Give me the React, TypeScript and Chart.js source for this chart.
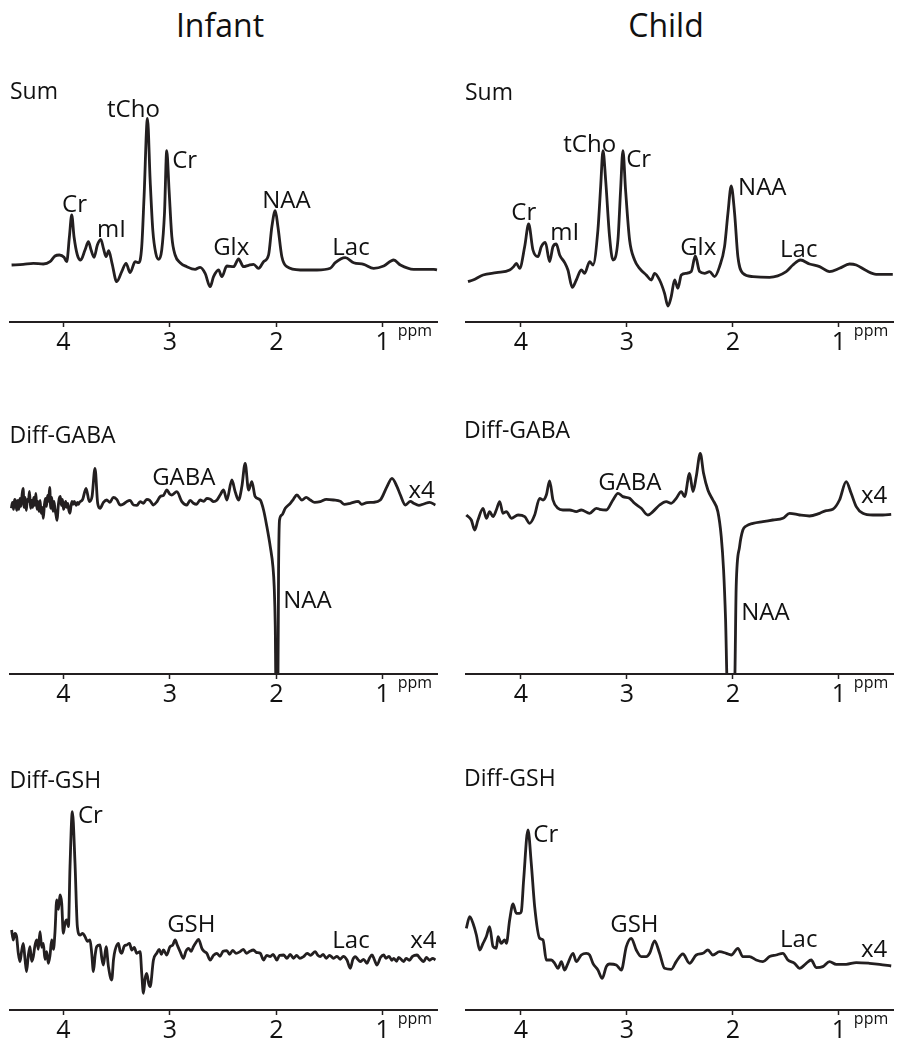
import React, { useEffect, useRef } from "react";
import { Chart, registerables } from "chart.js";

Chart.register(...registerables);

// ---------- tick labels ----------
const TICK_VALUES = [4, 3, 2, 1];

// ---------- Infant / Sum ----------
const infantSumPpm = [4.488, 4.378, 4.284, 4.19, 4.127, 4.08, 4.039, 3.995, 3.97, 3.945, 3.923, 3.901, 3.87, 3.839, 3.798, 3.766, 3.741, 3.713, 3.682, 3.65, 3.625, 3.6, 3.575, 3.544, 3.5, 3.453, 3.412, 3.374, 3.327, 3.293, 3.265, 3.243, 3.211, 3.186, 3.161, 3.133, 3.105, 3.077, 3.051, 3.03, 3.008, 2.982, 2.951, 2.904, 2.841, 2.763, 2.716, 2.669, 2.622, 2.59, 2.543, 2.512, 2.465, 2.402, 2.355, 2.308, 2.261, 2.214, 2.167, 2.12, 2.073, 2.042, 2.01, 1.985, 1.948, 1.901, 1.775, 1.618, 1.493, 1.446, 1.352, 1.273, 1.179, 1.085, 0.991, 0.897, 0.834, 0.709, 0.521, 0.49];
const infantSumVal = [0, 0.7, 1.7, 1, 3.3, 9, 10, 7.7, 3.3, 28, 50, 28, 10, 5, 15, 23.3, 15, 7.7, 20, 25.7, 16.7, 8.3, 14.3, 1.7, -16.7, -6.7, 1.7, -7.7, 3.3, 2.3, 18.3, 68.3, 146.7, 85, 35, 11.7, 5.7, 15, 51.7, 114.3, 75, 28.3, 10, 2.3, -1.7, -4.3, -2.3, -8.3, -21.7, -11.7, -5, -11.7, -1, -1.7, 6, -1.7, -0.3, 0.7, -3.3, 3.3, 10, 38.3, 54.3, 38.3, 8.3, -1.7, -5, -5, -3.3, 2.3, 7.3, 2.3, 0.7, -3.3, -1, 5, 0, -4.3, -4.3, -5];

// ---------- Child / Sum ----------
const childSumPpm = [4.5, 4.453, 4.358, 4.233, 4.107, 4.069, 4.044, 4.013, 3.965, 3.928, 3.887, 3.84, 3.808, 3.77, 3.73, 3.698, 3.667, 3.635, 3.588, 3.557, 3.516, 3.478, 3.431, 3.399, 3.352, 3.321, 3.274, 3.248, 3.226, 3.201, 3.164, 3.132, 3.085, 3.06, 3.038, 3.013, 2.975, 2.928, 2.881, 2.818, 2.77, 2.739, 2.692, 2.645, 2.613, 2.582, 2.55, 2.519, 2.487, 2.44, 2.393, 2.355, 2.314, 2.267, 2.22, 2.173, 2.126, 2.079, 2.047, 2.016, 1.984, 1.953, 1.906, 1.811, 1.654, 1.497, 1.434, 1.362, 1.277, 1.182, 1.088, 0.994, 0.899, 0.836, 0.742, 0.648, 0.491];
const childSumVal = [-7.3, -5.7, -0.7, 1.7, 4.3, 7.7, 11, 6, 27.7, 50.3, 24.3, 17.7, 27.7, 32, 12.7, 27.7, 30.3, 19.3, 11.7, 4.3, -13, -5.7, 4.3, 1, 12.7, 9.3, 44.3, 87.7, 123.7, 94.3, 37.7, 14.3, 34.3, 84.3, 123.7, 84.3, 34.3, 14.3, 6, -0.7, -5.7, 1, -5.7, -19, -31.7, -22.3, -5.7, -14, -0.7, 1, 2.7, 18.3, 2.7, 1, 2.7, -2.3, 7.7, 27.7, 61, 88.3, 61, 17.7, 1, -2.3, -3, 2.7, 9.3, 14.3, 10.3, 7.7, 2.7, 6, 10.3, 9.3, 3.7, 0, 0];

// ---------- Infant / Diff-GABA ----------
const infantGabaPpm = [4.49, 4.48, 4.47, 4.46, 4.45, 4.44, 4.43, 4.42, 4.41, 4.4, 4.39, 4.38, 4.37, 4.36, 4.35, 4.34, 4.33, 4.32, 4.31, 4.3, 4.29, 4.28, 4.27, 4.26, 4.25, 4.24, 4.23, 4.22, 4.21, 4.2, 4.19, 4.18, 4.17, 4.16, 4.15, 4.14, 4.13, 4.12, 4.11, 4.1, 4.09, 4.08, 4.07, 4.06, 4.05, 4.04, 4.03, 4.02, 4.01, 4.0, 3.99, 3.98, 3.97, 3.96, 3.95, 3.94, 3.93, 3.92, 3.91, 3.9, 3.89, 3.88, 3.87, 3.86, 3.85, 3.82, 3.788, 3.757, 3.732, 3.704, 3.679, 3.657, 3.625, 3.594, 3.565, 3.531, 3.5, 3.468, 3.44, 3.406, 3.375, 3.343, 3.31, 3.28, 3.25, 3.218, 3.19, 3.155, 3.12, 3.092, 3.06, 3.03, 3.0, 2.982, 2.935, 2.888, 2.841, 2.81, 2.779, 2.75, 2.716, 2.68, 2.653, 2.62, 2.59, 2.56, 2.528, 2.496, 2.465, 2.418, 2.387, 2.355, 2.324, 2.293, 2.261, 2.23, 2.199, 2.151, 2.12, 2.089, 2.057, 2.032, 2.02, 2.01, 2.004, 1.985, 1.979, 1.97, 1.948, 1.916, 1.869, 1.84, 1.807, 1.76, 1.72, 1.681, 1.64, 1.587, 1.53, 1.462, 1.4, 1.36, 1.305, 1.23, 1.2, 1.148, 1.09, 1.023, 0.96, 0.913, 0.866, 0.834, 0.787, 0.74, 0.709, 0.66, 0.615, 0.56, 0.505];
const infantGabaVal = [-5, 1, -6, 4, 2, -7, 3, -6, 5, -3, 8, 15, -4, 6, -7, 4, 2, 12, -5, 3, -4, 6, -2, 10, -6, 2, -8, 3, -10, -4, -15, -2, 5, -3, 8, 2, 16, -5, 6, -8, 2, -6, -12, -17, -3, 5, 7, -2, 4, -6, -3, 2, -4, 0, -7, -10, -3, 2, -1, 2, 0, -2, 1, -1, 1, 4, 15, 1.7, 6.7, 35, 0, -5, 1, 3.3, 1, 6, 4, -1.7, -1, 1.7, 3, -1.7, -2, 1.7, 0, 4, 3, -1.7, 2, 6.7, 8, 13.3, 9, 8.3, 11.7, 1.7, -1.7, 3, 0, -1, 3.3, 2, 5, 4, 1.7, 3, 8.3, 13.3, 3.3, 23.3, 11.7, 3.3, 16.7, 40, 13.3, 21.7, 6.7, 3.3, -6.7, -23.3, -43.3, -63.3, -83.3, -123.3, -180, -180, -66.7, -16.7, -11.7, -5, 0, 4, 8.3, 3.3, 6, 3.3, 1, 1.7, 4, 3.3, 2, -1, 0, 2, -1, 0.7, 1, 3.3, 16.7, 25, 16.7, 8.3, -1.7, 2, 0, -2, -0.7, 1, -1.7];

// ---------- Child / Diff-GABA ----------
const childGabaPpm = [4.516, 4.469, 4.437, 4.406, 4.358, 4.327, 4.296, 4.264, 4.233, 4.201, 4.17, 4.138, 4.091, 4.028, 3.965, 3.918, 3.871, 3.824, 3.792, 3.761, 3.73, 3.698, 3.651, 3.604, 3.541, 3.478, 3.431, 3.352, 3.289, 3.258, 3.195, 3.132, 3.085, 3.038, 2.975, 2.928, 2.865, 2.802, 2.755, 2.692, 2.629, 2.582, 2.535, 2.487, 2.456, 2.409, 2.377, 2.346, 2.308, 2.277, 2.236, 2.189, 2.142, 2.11, 2.088, 2.069, 2.053, 1.984, 1.969, 1.937, 1.906, 1.874, 1.811, 1.717, 1.623, 1.528, 1.465, 1.371, 1.277, 1.182, 1.119, 1.057, 0.994, 0.931, 0.884, 0.836, 0.774, 0.679, 0.585, 0.506];
const childGabaVal = [-1.7, -6.7, -16.7, -6.7, 5, -5, 1.7, -3.3, 3.3, 11.7, 0, 1.7, -5, -1.7, -3.3, -10, -1.7, 15, 13.3, 18.3, 32.3, 13.3, 5, 3.3, 3.3, 1.7, 3.3, 0, 5, 4, 3.3, 13.3, 20, 16.7, 15, 10, 5, -1.7, 1.7, 8.3, 11.7, 10, 15, 21.7, 16.7, 40, 21.7, 36.7, 60, 40, 23.3, 13.3, 1.7, -23.3, -56.7, -106.7, -170, -170, -73.3, -33.3, -16.7, -12.7, -10, -8.3, -6.7, -5, 0, -1.7, -2.7, 0, 2.7, 4, 13.3, 31.7, 20, 6.7, 0, -1.7, -1.7, -1];

// ---------- Infant / Diff-GSH ----------
const infantGshPpm = [4.488, 4.472, 4.457, 4.441, 4.425, 4.409, 4.394, 4.378, 4.362, 4.347, 4.331, 4.315, 4.3, 4.284, 4.268, 4.252, 4.237, 4.221, 4.205, 4.19, 4.174, 4.158, 4.143, 4.127, 4.111, 4.095, 4.08, 4.064, 4.048, 4.033, 4.017, 4.002, 3.986, 3.97, 3.954, 3.939, 3.917, 3.892, 3.87, 3.845, 3.82, 3.798, 3.775, 3.751, 3.735, 3.719, 3.703, 3.688, 3.657, 3.64, 3.625, 3.6, 3.578, 3.547, 3.53, 3.515, 3.484, 3.468, 3.453, 3.43, 3.406, 3.38, 3.359, 3.335, 3.312, 3.28, 3.265, 3.249, 3.233, 3.218, 3.2, 3.186, 3.155, 3.124, 3.1, 3.08, 3.061, 3.03, 2.999, 2.975, 2.951, 2.93, 2.904, 2.873, 2.85, 2.826, 2.8, 2.779, 2.76, 2.731, 2.7, 2.68, 2.653, 2.622, 2.59, 2.559, 2.53, 2.5, 2.465, 2.44, 2.41, 2.38, 2.34, 2.31, 2.28, 2.25, 2.214, 2.19, 2.151, 2.12, 2.09, 2.057, 2.03, 1.995, 1.97, 1.932, 1.9, 1.87, 1.838, 1.81, 1.78, 1.744, 1.71, 1.68, 1.634, 1.61, 1.587, 1.56, 1.53, 1.5, 1.462, 1.43, 1.4, 1.37, 1.336, 1.305, 1.28, 1.258, 1.235, 1.211, 1.18, 1.148, 1.125, 1.101, 1.08, 1.054, 1.02, 0.991, 0.97, 0.94, 0.915, 0.897, 0.87, 0.85, 0.803, 0.78, 0.75, 0.72, 0.678, 0.65, 0.615, 0.59, 0.56, 0.53, 0.505];
const infantGshVal = [23.3, 13.3, 20, 16.7, 0, -8.3, 2, 10, -6, -18.3, -2, 6.7, -8, -3.3, 8, 13.3, 4, 21.7, 6, 10, -6, 1.7, -10, -2, 13.3, 4, 21.7, 53.3, 44, 58.3, 50, 20, 30, 33.3, 26.7, 86.7, 141.7, 90, 26.7, 18.3, 20, 16.7, 12, 13.3, 0, -18.3, -2, 6.7, 8.3, -5, -11.7, 6.7, -13.3, -26.7, -6, 3.3, 10, 2, 0, 7, 8.3, 10, 3.3, 6, 0, 1.7, -20, -40, -25, -20, -30, -33.3, -6.7, 0, 4, -1, 3.3, -1.7, 6.7, 8, 13.3, 8, 1.7, -5, 2, 5, 2, 6.7, 10, 14, 5, 2, 0, -6.7, -2, 0, -3, 2, 2.7, -1, 3, 0, 1.7, 4, 0, 2, 3.3, 1, 0, -6.7, -2, -3.3, -1, -6.7, -2, -1.7, -5, -1, -5, -2, -5, -3.3, 0, -2, 1.7, -2, -3.3, -1, -5, -2, -5, -3, -6, -3, -6.7, -15, -6, -3.3, -6, -8.3, -6, -10, -5, -1.7, -6, -11.7, -4, -1.7, -5, -3, -7, -5, -8, -4, -8.3, -5, -7, -3, -1.7, -5, -8.3, -4, -7, -5, -6.7];

// ---------- Child / Diff-GSH ----------
const childGshPpm = [4.516, 4.484, 4.453, 4.421, 4.39, 4.358, 4.327, 4.296, 4.264, 4.233, 4.217, 4.186, 4.154, 4.138, 4.107, 4.075, 4.044, 4.013, 3.997, 3.975, 3.934, 3.903, 3.871, 3.824, 3.792, 3.761, 3.714, 3.682, 3.651, 3.619, 3.588, 3.557, 3.509, 3.478, 3.431, 3.384, 3.352, 3.321, 3.274, 3.233, 3.195, 3.164, 3.101, 3.053, 3.006, 2.959, 2.912, 2.865, 2.818, 2.786, 2.739, 2.692, 2.645, 2.582, 2.535, 2.472, 2.409, 2.346, 2.283, 2.236, 2.189, 2.126, 2.063, 2.016, 1.953, 1.906, 1.843, 1.78, 1.717, 1.654, 1.591, 1.528, 1.481, 1.418, 1.371, 1.308, 1.261, 1.214, 1.151, 1.088, 1.025, 0.931, 0.836, 0.711, 0.616, 0.506];
const childGshVal = [35, 46.7, 40, 28.3, 13.3, 20, 26.7, 36.7, 16.7, 15, 26.7, 20, 23.3, 20, 43.3, 59.3, 50, 50, 51.7, 83.3, 133.3, 100, 56.7, 25, 23.3, 3.3, 3.3, 0, -5, 1.7, -6.7, 0, 10, 1.7, 8.3, 10, 8.3, 0, -6.7, -15, -3.3, -0.7, -1.7, -6.7, 16.7, 25, 13.3, 6.7, 6.7, 10, 22.3, 10, -5, -6, 1.7, 9.3, 0, 8.3, 10, 13.3, 8.3, 11.7, 10, 8.3, 15, 6.7, 6.7, 3.3, 1.7, 6.7, 8.3, 10, 3.3, 0, -5, 0, 3.3, -4.3, -3.3, 1.7, -1, -1, 0.7, 0, -1, -2.7];

// ---------- annotations (text anchored at ppm / intensity) ----------
type Note = { text: string; ppm: number; val: number };
const infantSumNotes: Note[] = [
  { text: "tCho", ppm: 3.591, val: 148 },
  { text: "Cr", ppm: 2.979, val: 97 },
  { text: "Cr", ppm: 4.014, val: 53 },
  { text: "mI", ppm: 3.685, val: 28 },
  { text: "Glx", ppm: 2.594, val: 10 },
  { text: "NAA", ppm: 2.133, val: 57 },
  { text: "Lac", ppm: 1.474, val: 10 },
];
const childSumNotes: Note[] = [
  { text: "tCho", ppm: 3.601, val: 122.3 },
  { text: "Cr", ppm: 3.007, val: 107.3 },
  { text: "Cr", ppm: 4.091, val: 54.3 },
  { text: "mI", ppm: 3.724, val: 34.3 },
  { text: "Glx", ppm: 2.498, val: 19.3 },
  { text: "NAA", ppm: 1.951, val: 79.3 },
  { text: "Lac", ppm: 1.555, val: 17.3 },
];
const infantGabaNotes: Note[] = [
  { text: "GABA", ppm: 3.167, val: 18.3 },
  { text: "x4", ppm: 0.759, val: 5.3 },
  { text: "NAA", ppm: 1.935, val: -104.7 },
];
const childGabaNotes: Note[] = [
  { text: "GABA", ppm: 3.271, val: 23.3 },
  { text: "x4", ppm: 0.791, val: 10.3 },
  { text: "NAA", ppm: 1.922, val: -106.7 },
];
const infantGshNotes: Note[] = [
  { text: "Cr", ppm: 3.864, val: 130.3 },
  { text: "GSH", ppm: 3.026, val: 21.3 },
  { text: "Lac", ppm: 1.474, val: 5.3 },
  { text: "x4", ppm: 0.741, val: 5.3 },
];
const childGshNotes: Note[] = [
  { text: "Cr", ppm: 3.884, val: 121.3 },
  { text: "GSH", ppm: 3.158, val: 31.3 },
  { text: "Lac", ppm: 1.555, val: 16.3 },
  { text: "x4", ppm: 0.791, val: 6.3 },
];

// ---------- styling / layout ----------
const FONT = '"Open Sans", "Noto Sans", "DejaVu Sans", sans-serif';
const LINE_COLOR = "#231f20";
const TEXT_COLOR = "#111111";
const AXIS_H = 40;

type PanelCfg = {
  left: number; top: number; width: number; height: number;
  padL: number; padR: number;
  ppmMin: number; ppmMax: number; yMin: number; yMax: number;
  ppm: number[]; val: number[]; notes: Note[];
};

const LEFT_COL = { left: 0, width: 453, padL: 10, padR: 16, ppmMin: 0.49, ppmMax: 4.503 };
const RIGHT_COL = { left: 453, width: 453, padL: 13, padR: 13, ppmMin: 0.489, ppmMax: 4.519 };
const ROWS = [
  { top: 60, axis: 322 },
  { top: 400, axis: 674 },
  { top: 760, axis: 1010 },
];

const mk = (col: typeof LEFT_COL, row: { top: number; axis: number }, yMin: number, yMax: number, ppm: number[], val: number[], notes: Note[]): PanelCfg => ({
  ...col, top: row.top, height: row.axis - row.top + AXIS_H, yMin, yMax, ppm, val, notes,
});

const PANELS: PanelCfg[] = [
  mk(LEFT_COL, ROWS[0], -57, 205, infantSumPpm, infantSumVal, infantSumNotes),
  mk(RIGHT_COL, ROWS[0], -47.7, 214.3, childSumPpm, childSumVal, childSumNotes),
  mk(LEFT_COL, ROWS[1], -170.7, 103.3, infantGabaPpm, infantGabaVal, infantGabaNotes),
  mk(RIGHT_COL, ROWS[1], -160.7, 113.3, childGabaPpm, childGabaVal, childGabaNotes),
  mk(LEFT_COL, ROWS[2], -56.7, 193.3, infantGshPpm, infantGshVal, infantGshNotes),
  mk(RIGHT_COL, ROWS[2], -46.7, 203.3, childGshPpm, childGshVal, childGshNotes),
];

const PANEL_LABELS = [
  { text: "Sum", left: 10, top: 78.6 },
  { text: "Sum", left: 465, top: 79.6 },
  { text: "Diff-GABA", left: 9.5, top: 422.6 },
  { text: "Diff-GABA", left: 464, top: 417.6 },
  { text: "Diff-GSH", left: 9.5, top: 767.6 },
  { text: "Diff-GSH", left: 464, top: 766.3 },
];
const COLUMN_TITLES = [
  { text: "Infant", center: 220 },
  { text: "Child", center: 666 },
];

function Panel({ cfg }: { cfg: PanelCfg }) {
  const ref = useRef<HTMLCanvasElement>(null);
  useEffect(() => {
    const canvas = ref.current;
    if (!canvas) return;
    const notesPlugin = {
      id: "notes",
      afterDatasetsDraw(chart: any) {
        const ctx = chart.ctx;
        const xs = chart.scales.x;
        const ys = chart.scales.y;
        ctx.save();
        ctx.fillStyle = TEXT_COLOR;
        ctx.textAlign = "left";
        ctx.textBaseline = "alphabetic";
        ctx.font = `24px ${FONT}`;
        cfg.notes.forEach((n) => ctx.fillText(n.text, xs.getPixelForValue(n.ppm), ys.getPixelForValue(n.val)));
        ctx.font = `16px ${FONT}`;
        ctx.fillText("ppm", xs.getPixelForValue(1) + 15, chart.chartArea.bottom + 14);
        ctx.restore();
      },
    };
    const chart = new Chart(canvas, {
      type: "line",
      data: {
        datasets: [
          {
            data: cfg.ppm.map((x, i) => ({ x, y: cfg.val[i] })),
            borderColor: LINE_COLOR,
            borderWidth: 2.8,
            pointRadius: 0,
            fill: false,
            cubicInterpolationMode: "monotone",
            borderJoinStyle: "round",
            clip: { left: 4, right: 4, top: 8, bottom: 0 },
          } as any,
        ],
      },
      options: {
        animation: false,
        responsive: false,
        devicePixelRatio: 1,
        events: [],
        layout: { padding: { left: cfg.padL, right: cfg.padR, top: 0, bottom: 0 } },
        plugins: { legend: { display: false }, tooltip: { enabled: false }, title: { display: false } },
        scales: {
          x: {
            type: "linear",
            reverse: true,
            min: cfg.ppmMin,
            max: cfg.ppmMax,
            afterBuildTicks: (s: any) => {
              s.ticks = TICK_VALUES.map((v) => ({ value: v }));
            },
            afterFit: (s: any) => {
              s.height = AXIS_H;
            },
            grid: { drawOnChartArea: false, drawTicks: true, tickLength: 5, tickColor: LINE_COLOR, tickWidth: 1.5 },
            border: { display: true, color: LINE_COLOR, width: 2 },
            ticks: {
              color: TEXT_COLOR,
              font: { family: FONT, size: 25 },
              padding: 1,
              maxRotation: 0,
              autoSkip: false,
              callback: (v: any) => String(v),
            },
          },
          y: { display: false, min: cfg.yMin, max: cfg.yMax },
        },
      } as any,
      plugins: [notesPlugin],
    });
    return () => chart.destroy();
  }, [cfg]);
  return (
    <canvas
      ref={ref}
      width={cfg.width}
      height={cfg.height}
      style={{ position: "absolute", left: cfg.left, top: cfg.top, width: cfg.width, height: cfg.height }}
    />
  );
}

export default function App() {
  useEffect(() => {
    document.body.style.margin = "0";
    document.body.style.background = "#ffffff";
  }, []);
  return (
    <div style={{ position: "relative", width: 906, height: 1050, background: "#ffffff", overflow: "hidden", fontFamily: FONT, color: TEXT_COLOR }}>
      {COLUMN_TITLES.map((t) => (
        <div key={t.text} style={{ position: "absolute", left: t.center - 150, width: 300, top: 8.6, textAlign: "center", fontSize: 32, lineHeight: "32px" }}>
          {t.text}
        </div>
      ))}
      {PANELS.map((p, i) => (
        <Panel key={i} cfg={p} />
      ))}
      {PANEL_LABELS.map((l, i) => (
        <div key={i} style={{ position: "absolute", left: l.left, top: l.top, fontSize: 23, lineHeight: "23px", whiteSpace: "nowrap" }}>
          {l.text}
        </div>
      ))}
    </div>
  );
}
